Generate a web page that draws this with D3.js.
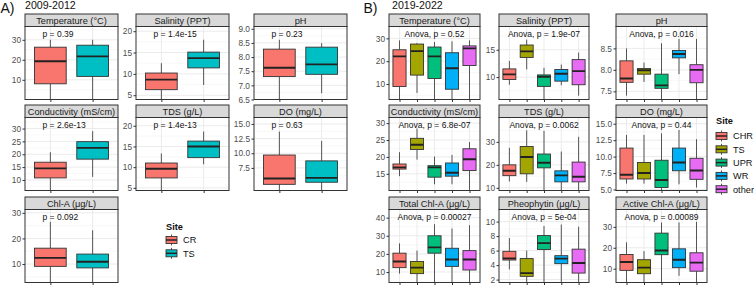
<!DOCTYPE html>
<html><head><meta charset="utf-8">
<script src="https://cdn.jsdelivr.net/npm/d3@7"></script>
<style>
body{margin:0;background:#fff}
svg{display:block}
text{font-family:"Liberation Sans",Arial,Helvetica,sans-serif}
</style>
</head><body>
<svg id="c" width="754" height="286"></svg>
<script>
// ---------------- DATA ----------------
const sitesA = ["CR", "TS"];
const sitesB = ["CHR", "TS", "UPR", "WR", "other"];
const coloursA = ["#F8766D", "#00BFC4"];
const coloursB = ["#F8766D", "#A3A500", "#00BF7D", "#00B0F6", "#E76BF3"];

const titlesA = ["Temperature (°C)", "Salinity (PPT)", "pH", "Conductivity (mS/cm)", "TDS (g/L)", "DO (mg/L)", "Chl-A (μg/L)"];
const pLabelsA = ["p = 0.39", "p = 1.4e-15", "p = 0.23", "p = 2.6e-13", "p = 1.4e-13", "p = 0.63", "p = 0.092"];
const ticksA = [[10, 20, 30], [5, 10, 15, 20], [6.5, 7.0, 7.5, 8.0, 8.5, 9.0], [10, 15, 20, 25, 30], [5, 10, 15, 20], [7.5, 10.0, 12.5, 15.0], [10, 20, 30]];
const domainsA = [[0.15, 36.65], [4.0, 21.1], [6.5, 9.08], [5.9, 34.3], [4.36, 22.0], [3.65, 16.1], [2.8, 31.3]];

// box stats per site: [lower whisker, Q1, median, Q3, upper whisker]
const temperatureA = [[0, 8.0, 19.3, 26.3, 30.0], [0, 11.7, 21.7, 27.3, 30.0]];
const salinityA = [[3.0, 6.3, 8.66, 10.2, 12.5], [7.4, 11.4, 13.7, 15.1, 18.0]];
const phA = [[6.4, 7.31, 7.62, 8.28, 8.61], [6.72, 7.39, 7.74, 8.35, 8.49]];
const conductivityA = [[5.0, 10.8, 14.5, 16.9, 20.8], [11.2, 18.1, 22.5, 24.9, 29.0]];
const tdsA = [[4.0, 7.4, 9.6, 11.0, 13.3], [10.7, 12.3, 15.0, 16.3, 18.6]];
const doA = [[3.0, 4.7, 5.7, 9.7, 13.7], [3.0, 5.06, 5.8, 8.7, 12.1]];
const chlA = [[2.0, 9.1, 12.4, 16.2, 26.5], [2.0, 8.5, 10.9, 13.9, 23.2]];

const titlesB = ["Temperature (°C)", "Salinity (PPT)", "pH", "Conductivity (mS/cm)", "TDS (g/L)", "DO (mg/L)", "Total Chl-A (μg/L)", "Pheophytin (μg/L)", "Active Chl-A (μg/L)"];
const pLabelsB = ["Anova, p = 0.52", "Anova, p = 1.9e-07", "Anova, p = 0.016", "Anova, p = 6.8e-07", "Anova, p = 0.0062", "Anova, p = 0.44", "Anova, p = 0.00027", "Anova, p = 5e-04", "Anova, p = 0.00089"];
const ticksB = [[10, 20, 30], [10, 15], [7.5, 8.0, 8.5], [15, 20, 25, 30], [10, 20, 30], [5.0, 7.5, 10.0, 12.5, 15.0], [10, 20, 30, 40], [2, 4, 6, 8, 10], [10, 20, 30]];
const domainsB = [[3.2, 35.2], [5.9, 19.26], [7.31, 9.01], [10.06, 31.66], [8.84, 40.6], [4.85, 15.95], [4.2, 44.5], [1.6, 11.67], [3.4, 38.3]];

const temperatureB = [[0, 8.9, 22.1, 25.0, 29.1], [6.1, 13.9, 24.4, 27.5, 27.9], [0, 12.4, 22.1, 26.2, 28.4], [0, 7.7, 16.9, 23.7, 28.7], [0, 18.1, 25.6, 26.7, 29.1]];
const salinityB = [[8.6, 9.57, 10.5, 11.5, 12.96], [11.4, 13.6, 14.7, 15.87, 16.85], [4.0, 8.3, 10.06, 10.4, 11.7], [8.5, 9.26, 10.6, 11.4, 12.3], [6.6, 8.6, 11.1, 13.2, 14.5]];
const phB = [[7.4, 7.71, 7.80, 8.21, 8.5], [7.72, 7.90, 7.99, 8.03, 8.17], [7.0, 7.57, 7.64, 7.90, 8.62], [7.9, 8.28, 8.37, 8.45, 8.72], [7.0, 7.70, 8.0, 8.12, 8.72]];
const conductivityB = [[14.3, 16.4, 16.9, 17.9, 21.4], [19.2, 22.2, 23.6, 25.5, 28.4], [11.9, 14.0, 16.9, 17.4, 20.1], [11.9, 14.3, 15.3, 18.2, 20.6], [8.0, 15.95, 19.3, 22.4, 24.4]];
const tdsB = [[12.8, 15.3, 17.4, 20.0, 27.4], [12.6, 16.1, 23.4, 28.0, 35.0], [5.0, 18.7, 20.9, 24.7, 34.8], [5.0, 12.6, 15.4, 17.4, 25.8], [5.0, 12.6, 14.8, 21.2, 32.2]];
const doB = [[5.9, 6.6, 7.25, 11.3, 13.3], [5.9, 6.6, 7.5, 9.1, 13.3], [3.0, 5.3, 6.45, 9.45, 13.55], [5.8, 7.85, 9.1, 11.3, 14.05], [5.3, 6.55, 7.9, 9.75, 12.65]];
const totalChlB = [[9.1, 12.4, 15.8, 20.4, 25.8], [2.0, 9.1, 12.4, 15.8, 21.8], [2.0, 20.4, 23.6, 30.0, 36.4], [2.0, 13.1, 16.9, 23.1, 34.0], [2.0, 11.1, 16.9, 21.8, 35.8]];
const pheophytinB = [[3.4, 4.7, 4.93, 5.9, 7.73], [1.0, 2.45, 2.9, 4.9, 6.0], [1.0, 6.16, 7.03, 8.07, 9.4], [1.0, 4.2, 4.9, 5.3, 9.6], [1.0, 2.9, 4.3, 6.2, 9.3]];
const activeChlB = [[2.0, 9.2, 13.2, 16.8, 22.6], [2.0, 7.6, 10.5, 14.3, 18.4], [2.0, 16.7, 18.7, 27.0, 32.1], [6.6, 10.5, 14.3, 19.5, 32.1], [2.0, 8.8, 12.9, 17.6, 32.4]];

const statsA = [temperatureA, salinityA, phA, conductivityA, tdsA, doA, chlA];
const statsB = [temperatureB, salinityB, phB, conductivityB, tdsB, doB, totalChlB, pheophytinB, activeChlB];

// ---------------- LAYOUT ----------------
const svg = d3.select("#c");
const rowTops = [14, 105, 197];
const stripH = 12.5, plotH = 73;
const colsA = [[25, 118], [136, 229], [254, 347]];
const colsB = [[389, 480], [499, 589], [616, 707]];
const FONT_AXIS = 8.3, FONT_STRIP = 9.2, FONT_P = 8.5;
let clipId = 0;

function fmtFor(ticks) {
  const dec = ticks.some(t => Math.abs(t - Math.round(t)) > 1e-9);
  return dec ? d3.format(".1f") : d3.format("d");
}

function drawPanel(x0, x1, top, title, sites, colours, stats, domain, ticks, label, centred) {
  const plotTop = top + stripH, plotBot = plotTop + plotH;
  const g = svg.append("g");
  const x = d3.scalePoint().domain(sites).range([x0, x1]).padding(0.6);
  const y = d3.scaleLinear().domain(domain).range([plotBot, plotTop]);
  const bw = x.step() * 0.75;

  g.append("rect").attr("x", x0).attr("y", plotTop).attr("width", x1 - x0).attr("height", plotH).attr("fill", "#fff");

  const minors = [];
  const step = ticks.length > 1 ? ticks[1] - ticks[0] : 1;
  for (let i = -1; i < ticks.length; i++) {
    const v = (i < 0 ? ticks[0] : ticks[i]) + (i < 0 ? -step / 2 : step / 2);
    if (v > domain[0] && v < domain[1]) minors.push(v);
  }
  g.selectAll(".mn").data(minors).join("line")
    .attr("x1", x0).attr("x2", x1).attr("y1", d => y(d)).attr("y2", d => y(d))
    .attr("stroke", "#F3F3F3").attr("stroke-width", 0.6);
  g.selectAll(".mj").data(ticks.filter(t => t >= domain[0] && t <= domain[1])).join("line")
    .attr("x1", x0).attr("x2", x1).attr("y1", d => y(d)).attr("y2", d => y(d))
    .attr("stroke", "#EBEBEB").attr("stroke-width", 1);
  g.selectAll(".vx").data(sites).join("line")
    .attr("x1", d => x(d)).attr("x2", d => x(d)).attr("y1", plotTop).attr("y2", plotBot)
    .attr("stroke", "#EBEBEB").attr("stroke-width", 1);

  const cid = "clip" + (clipId++);
  svg.append("clipPath").attr("id", cid).append("rect")
    .attr("x", x0).attr("y", plotTop).attr("width", x1 - x0).attr("height", plotH);
  const pg = g.append("g").attr("clip-path", `url(#${cid})`);

  sites.forEach((s, i) => {
    const [lo, q1, md, q3, hi] = stats[i];
    const cx = x(s);
    pg.append("line").attr("x1", cx).attr("x2", cx).attr("y1", y(hi)).attr("y2", y(q3))
      .attr("stroke", "#555").attr("stroke-width", 1);
    pg.append("line").attr("x1", cx).attr("x2", cx).attr("y1", y(q1)).attr("y2", y(lo))
      .attr("stroke", "#555").attr("stroke-width", 1);
    pg.append("rect").attr("x", cx - bw / 2).attr("width", bw)
      .attr("y", y(q3)).attr("height", Math.max(0.5, y(q1) - y(q3)))
      .attr("fill", colours[i]).attr("stroke", "#333").attr("stroke-width", 0.9);
    pg.append("line").attr("x1", cx - bw / 2).attr("x2", cx + bw / 2).attr("y1", y(md)).attr("y2", y(md))
      .attr("stroke", "#222").attr("stroke-width", 1.9);
  });

  g.append("text")
    .attr("x", centred ? (x0 + x1) / 2 : x0 + 17.5)
    .attr("y", plotTop + 10.5)
    .attr("text-anchor", centred ? "middle" : "start")
    .attr("font-size", FONT_P).attr("fill", "#111").text(label);

  g.append("rect").attr("x", x0).attr("y", plotTop).attr("width", x1 - x0).attr("height", plotH)
    .attr("fill", "none").attr("stroke", "#333").attr("stroke-width", 1);

  g.append("rect").attr("x", x0).attr("y", top).attr("width", x1 - x0).attr("height", stripH)
    .attr("fill", "#D9D9D9").attr("stroke", "#333").attr("stroke-width", 1);
  g.append("text").attr("x", (x0 + x1) / 2).attr("y", top + stripH / 2 + 3.3)
    .attr("text-anchor", "middle").attr("font-size", FONT_STRIP).attr("fill", "#1A1A1A").text(title);

  const ya = g.append("g").attr("transform", `translate(${x0},0)`)
    .call(d3.axisLeft(y).tickValues(ticks).tickSize(2.5).tickPadding(1.5).tickFormat(fmtFor(ticks)));
  ya.select(".domain").remove();
  ya.selectAll("line").attr("stroke", "#333");
  ya.selectAll("text").attr("font-size", FONT_AXIS).attr("fill", "#4D4D4D").attr("font-family", null);
  const xa = g.append("g").attr("transform", `translate(0,${plotBot})`)
    .call(d3.axisBottom(x).tickSize(2.5).tickFormat(""));
  xa.select(".domain").remove();
  xa.selectAll("line").attr("stroke", "#333");
}

statsA.forEach((st, k) => {
  const r = Math.floor(k / 3), c = k % 3;
  drawPanel(colsA[c][0], colsA[c][1], rowTops[r], titlesA[k], sitesA, coloursA, st, domainsA[k], ticksA[k], pLabelsA[k], false);
});
statsB.forEach((st, k) => {
  const r = Math.floor(k / 3), c = k % 3;
  drawPanel(colsB[c][0], colsB[c][1], rowTops[r], titlesB[k], sitesB, coloursB, st, domainsB[k], ticksB[k], pLabelsB[k], true);
});

svg.append("text").attr("x", 0.5).attr("y", 13.3).attr("font-size", 14).attr("fill", "#111").text("A)");
svg.append("text").attr("x", 25).attr("y", 9.4).attr("font-size", 10.6).attr("fill", "#111").text("2009-2012");
svg.append("text").attr("x", 363.5).attr("y", 13.3).attr("font-size", 14).attr("fill", "#111").text("B)");
svg.append("text").attr("x", 392).attr("y", 9.4).attr("font-size", 10.6).attr("fill", "#111").text("2019-2022");

function legend(x, yTitle, yFirst, gap, sites, colours) {
  const g = svg.append("g");
  g.append("text").attr("x", x).attr("y", yTitle).attr("font-size", 9.2).attr("font-weight", "bold").attr("fill", "#111").text("Site");
  sites.forEach((s, i) => {
    const cy = yFirst + i * gap;
    const kx = x + 5.5;
    g.append("line").attr("x1", kx).attr("x2", kx).attr("y1", cy - 5.5).attr("y2", cy + 5.5).attr("stroke", "#555").attr("stroke-width", 1);
    g.append("rect").attr("x", x).attr("y", cy - 3.5).attr("width", 11).attr("height", 7)
      .attr("fill", colours[i]).attr("stroke", "#333").attr("stroke-width", 0.9);
    g.append("line").attr("x1", x).attr("x2", x + 11).attr("y1", cy).attr("y2", cy).attr("stroke", "#222").attr("stroke-width", 1.5);
    g.append("text").attr("x", x + 17).attr("y", cy + 3.3).attr("font-size", 9.2).attr("fill", "#111").text(s);
  });
}
legend(166, 229.5, 240, 13.3, sitesA, coloursA);
legend(716, 124, 136, 13.3, sitesB, coloursB);
</script>
</body></html>
